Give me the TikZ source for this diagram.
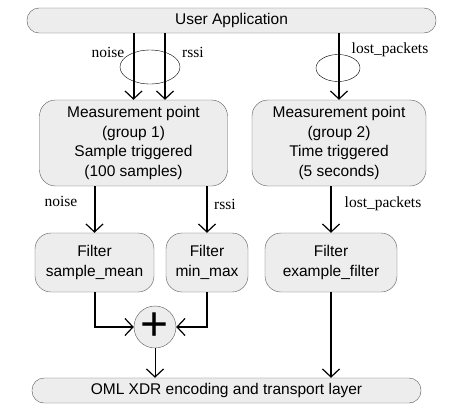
\documentclass[tikz,border=0pt]{standalone}
\usepackage{fontspec}
\setmainfont{Liberation Serif}
\newfontfamily\boxfont{Liberation Sans}
\usepackage{tikz}
\usetikzlibrary{shapes.geometric,arrows.meta}
\definecolor{omlfill}{rgb}{0.93,0.93,0.93}
\definecolor{omlline}{rgb}{0.35,0.35,0.35}
\tikzstyle{omlbar}=[rectangle, draw=omlline, fill=omlfill, rounded corners=12pt, minimum height=25pt, inner sep=0pt, font=\boxfont\fontsize{15.5}{19.5}\selectfont]
\tikzstyle{omlbox}=[rectangle, draw=omlline, fill=omlfill, rounded corners=16pt, inner sep=0pt, align=center, font=\boxfont\fontsize{15.5}{19.5}\selectfont]
\tikzstyle{omlsum}=[circle, draw=omlline, fill=omlfill, minimum size=42pt, inner sep=0pt, font=\boxfont\fontsize{48}{48}\selectfont]
\tikzstyle{omlgroup}=[ellipse, draw, thin, inner sep=0pt]
\tikzstyle{omllabel}=[font=\fontsize{15.5}{16}\selectfont, inner sep=0pt]
\tikzstyle{flow}=[line width=2pt, -{Straight Barb[length=8pt,width=17pt,line width=1.2pt]}]
\tikzstyle{thinflow}=[line width=1pt, -{Straight Barb[length=8pt,width=17pt,line width=1.2pt]}]
\newcommand{\omlbar}[4]{
	\node[omlbar, minimum width=#3] (#1) at (#2) {#4};}
\newcommand{\omlbox}[5]{
	\node[omlbox, minimum width=#3, minimum height=#4] (#1) at (#2) {#5};}

\begin{document}
\begin{tikzpicture}[x=1pt,y=-1pt]
	\useasboundingbox (0,0) rectangle (453,410);
	\omlbar{app}{231.5,20.5}{409pt}{User Application}
	
	\omlbox{mpone}{133.5,143}{188pt}{86pt}{Measurement point\\(group 1)\\Sample triggered\\(100 samples)}
	\omlbox{mptwo}{339,143}{174pt}{86pt}{Measurement point\\(group 2)\\Time triggered\\(5 seconds)}
	
	\omlbox{fmean}{94.5,262.5}{119pt}{59pt}{Filter\\sample\_mean}
	\omlbox{fminmax}{207,262.5}{82pt}{59pt}{Filter\\min\_max}
	\omlbox{fexample}{331,262.5}{132pt}{59pt}{Filter\\example\_filter}
	
	\node[omlsum] (sum) at (155,327) {+};
	
	\omlbar{oml}{226.5,390.5}{389pt}{OML XDR encoding and transport layer}
	
	\coordinate (rssiin) at ([xshift=31.5pt]mpone.north);
	
	\draw[flow] (app.south -| mpone.north) -- (mpone.north);
	\draw[flow] (app.south -| rssiin) -- (rssiin);
	\draw[flow] (app.south -| mptwo.north) -- (mptwo.north);
	\node[omlgroup, minimum width=60pt, minimum height=34pt] (grpone) at (150,67) {};
	\node[omlgroup, minimum width=44pt, minimum height=27pt] (grptwo) at (338,68) {};
	\node[omllabel] (noiseup) at (108,52) {noise};
	\node[omllabel] (rssiup) at (193,52) {rssi};
	\node[omllabel] (lostup) at (390,50) {lost\_packets};
	
	\draw[flow] (mpone.south -| fmean.north) -- (fmean.north);
	\draw[flow] (mpone.south -| fminmax.north) -- (fminmax.north);
	\draw[flow] (mptwo.south -| fexample.north) -- (fexample.north);
	\node[omllabel] (noisedown) at (61,201) {noise};
	\node[omllabel] (rssidown) at (225,204) {rssi};
	\node[omllabel] (lostdown) at (383,204) {lost\_packets};
	
	\draw[flow] (fmean.south) |- (sum.west);
	\draw[flow] (fminmax.south) |- (sum.east);
	\draw[thinflow] (sum.south) -- (sum.south |- oml.north);
	\draw[flow] (fexample.south) -- (fexample.south |- oml.north);
\end{tikzpicture}
\end{document}
